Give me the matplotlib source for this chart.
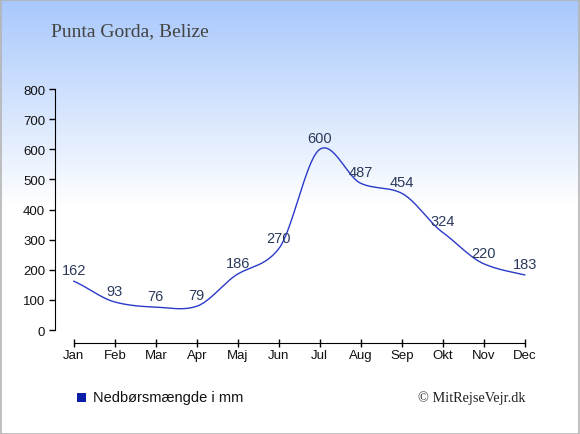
import numpy as np
import matplotlib
matplotlib.use('Agg')
import matplotlib.pyplot as plt
from matplotlib.colors import LinearSegmentedColormap

months = ['Jan', 'Feb', 'Mar', 'Apr', 'Maj', 'Jun', 'Jul', 'Aug', 'Sep', 'Okt', 'Nov', 'Dec']
rain = [162, 93, 76, 79, 186, 270, 600, 487, 454, 324, 220, 183]
title = 'Punta Gorda, Belize'
legend_label = 'Nedbørsmængde i mm'
credit = '© MitRejseVejr.dk'


def smooth(xs, ys, c=0.42, n=24):
    # cardinal spline (hermite), only used to draw the line smoothly
    xs = np.asarray(xs, float)
    ys = np.asarray(ys, float)
    m = np.zeros_like(ys)
    m[1:-1] = c * (ys[2:] - ys[:-2])
    m[0] = c * 2 * (ys[1] - ys[0])
    m[-1] = c * 2 * (ys[-1] - ys[-2])
    t = np.linspace(0, 1, n, endpoint=False)
    h00 = 2 * t ** 3 - 3 * t ** 2 + 1
    h10 = t ** 3 - 2 * t ** 2 + t
    h01 = -2 * t ** 3 + 3 * t ** 2
    h11 = t ** 3 - t ** 2
    ox, oy = [], []
    for i in range(len(xs) - 1):
        ox.extend(xs[i] + t * (xs[i + 1] - xs[i]))
        oy.extend(h00 * ys[i] + h10 * m[i] + h01 * ys[i + 1] + h11 * m[i + 1])
    ox.append(xs[-1])
    oy.append(ys[-1])
    return np.array(ox), np.array(oy)


fig = plt.figure(figsize=(5.8, 4.35), dpi=100)

# background gradient
bg = fig.add_axes([0, 0, 1, 1], zorder=-10)
cmap = LinearSegmentedColormap.from_list('bg', ['#a8c8fc', '#ffffff'])
grad = np.linspace(0, 1, 435)
grad = np.clip(grad / 0.48, 0, 1)[:, None]
bg.imshow(grad, aspect='auto', cmap=cmap, extent=[0, 1, 0, 1], origin='upper')
bg.set_xlim(0, 1)
bg.set_ylim(0, 1)
bg.axis('off')
bg.add_patch(plt.Rectangle((0.001, 0.001), 0.997, 0.997, fill=False,
                           edgecolor='#b4b4b4', lw=1.2, transform=bg.transAxes))

ax = fig.add_axes([0.0948, 0.239, 0.824, 0.554])
ax.patch.set_alpha(0)
x = np.arange(len(months))
sx, sy = smooth(x, rain)
ax.plot(sx, sy, color='#2a3ac8', lw=1.0)
for xi, v in zip(x, rain):
    ax.annotate(str(v), (xi, v), xytext=(0, 3), textcoords='offset points',
                ha='center', va='bottom', fontsize=10.5, color='#2b3a5c',
                family='Liberation Sans')

ax.set_ylim(0, 800)
ax.set_xlim(-0.46, 11.2)
ax.set_yticks(range(0, 801, 100))
ax.set_xticks(x)
ax.set_xticklabels(months)
for s in ('top', 'right'):
    ax.spines[s].set_visible(False)
ax.spines['left'].set_bounds(0, 800)
ax.spines['bottom'].set_bounds(0, 11)
ax.spines['bottom'].set_position(('outward', 9))
ax.tick_params(axis='y', direction='out', length=4, width=1, labelsize=9.5, pad=3)
ax.tick_params(axis='x', direction='inout', length=6, width=1, labelsize=9.5, pad=2)
for lab in ax.get_xticklabels() + ax.get_yticklabels():
    lab.set_family('Liberation Sans')
    lab.set_color('#111111')

fig.text(51 / 580, 1 - 32 / 435, title, fontsize=14, color='#444444',
         family='Liberation Serif', va='center', ha='left')
fig.patches.append(plt.Rectangle((77 / 580, 1 - 403 / 435), 9 / 580, 9 / 435,
                                 facecolor='#0a1ea8', edgecolor='none',
                                 transform=fig.transFigure, figure=fig))
fig.text(93 / 580, 1 - 398 / 435, legend_label, fontsize=10.5, color='#111111',
         family='Liberation Sans', va='center', ha='left')
fig.text(526 / 580, 1 - 398 / 435, credit, fontsize=10.3, color='#222222',
         family='Liberation Serif', va='center', ha='right')

fig.savefig('out.png', dpi=100)
